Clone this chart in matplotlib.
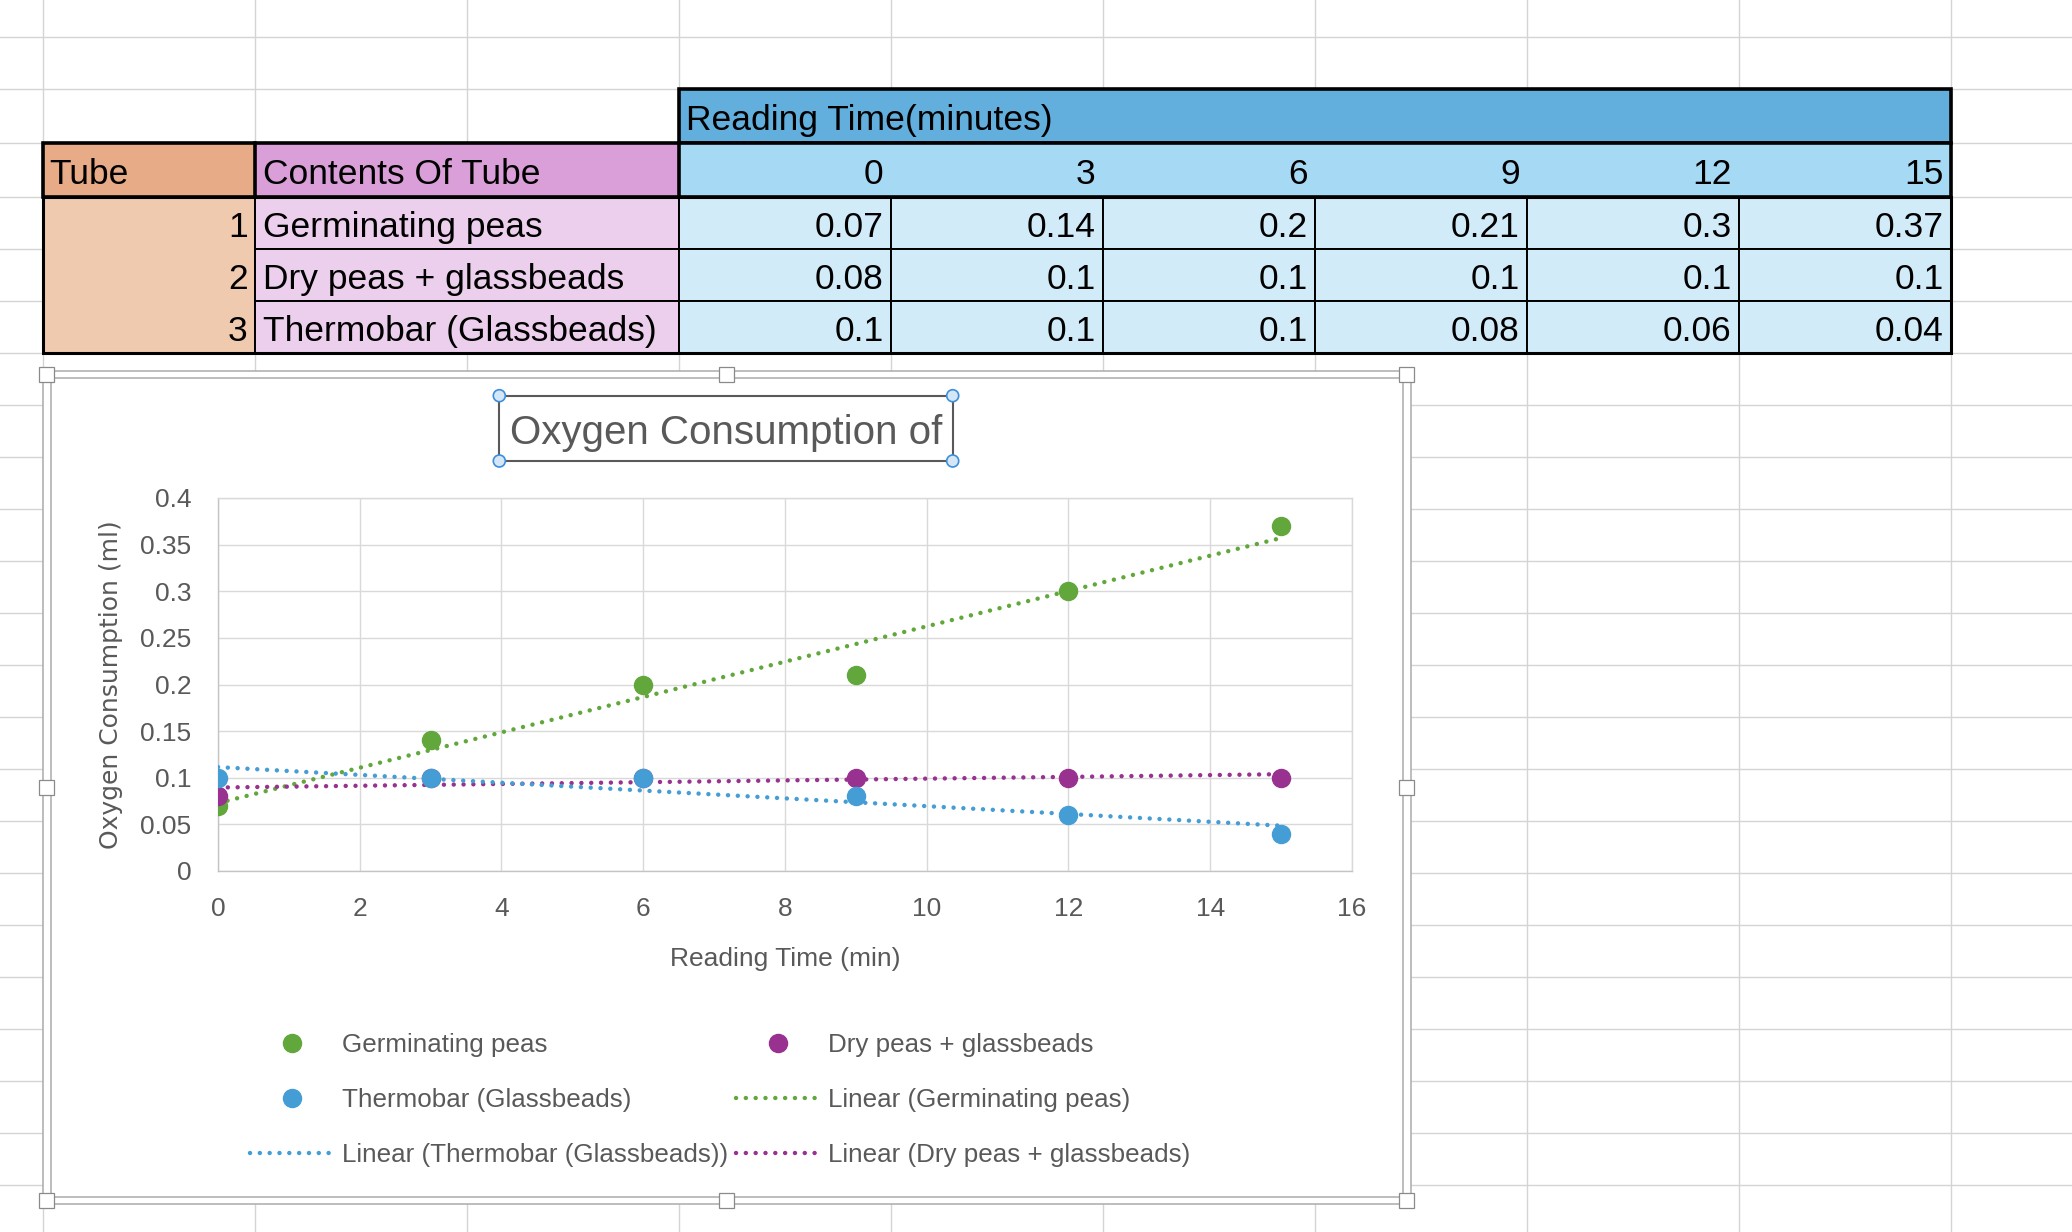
import numpy as np
import matplotlib.pyplot as plt
from matplotlib.patches import Rectangle, Circle
from matplotlib.lines import Line2D

plt.rcParams['font.family'] = ['Liberation Sans', 'DejaVu Sans']

#-----------------------------------------------------------------------------
# data (table + chart)
times = [0, 3, 6, 9, 12, 15]
tubes = [1, 2, 3]
contents = ['Germinating peas', 'Dry peas + glassbeads', 'Thermobar (Glassbeads)']
germinating = [0.07, 0.14, 0.2, 0.21, 0.3, 0.37]
dry_peas = [0.08, 0.1, 0.1, 0.1, 0.1, 0.1]
thermobar = [0.1, 0.1, 0.1, 0.08, 0.06, 0.04]
x_ticks = [0, 2, 4, 6, 8, 10, 12, 14, 16]
y_ticks = [0, 0.05, 0.1, 0.15, 0.2, 0.25, 0.3, 0.35, 0.4]

GREEN = '#62A73B'
PURPLE = '#98318F'
BLUE = '#459DD5'
GREY_TXT = '#595959'

#-----------------------------------------------------------------------------
# sheet background, pixel coords
W, H = 2072, 1232
fig = plt.figure(figsize=(W/100, H/100), dpi=100)
bg = fig.add_axes([0, 0, 1, 1])
bg.set_xlim(0, W)
bg.set_ylim(H, 0)
bg.axis('off')

col_x = [42.7 + 212*k for k in range(-1, 11)]
row_y = [-15, 37, 89, 143.3, 196.7, 249, 300.7, 352.7] + [352.7 + 52*k for k in range(1, 18)]
for x in col_x:
    bg.axvline(x, color='#D4D4D4', lw=1.0, zorder=0)
for y in row_y:
    bg.axhline(y, color='#D4D4D4', lw=1.0, zorder=0)

R = [89, 143.3, 196.7, 249, 300.7, 352.7]
C = [42.7 + 212*k for k in range(10)]
FS = 25.5

def cell(x0, x1, y0, y1, fill, lw=1.4, ec='black'):
    bg.add_patch(Rectangle((x0, y0), x1-x0, y1-y0, fc=fill, ec=ec, lw=lw, zorder=1))

def txt(x, row, s, ha):
    base = (R[row] + R[row+1])/2 + 14
    bg.text(x, base, s, fontsize=FS, ha=ha, va='baseline', color='black', zorder=3)

# header rows
cell(C[3], C[9], R[0], R[1], '#62AEDC', lw=2.6)
txt(C[3]+7, 0, 'Reading Time(minutes)', 'left')
cell(C[0], C[1], R[1], R[2], '#E7AC87', lw=0)
cell(C[1], C[3], R[1], R[2], '#DA9FD8', lw=0)
cell(C[3], C[9], R[1], R[2], '#A6D9F4', lw=0)
txt(C[0]+7, 1, 'Tube', 'left')
txt(C[1]+8, 1, 'Contents Of Tube', 'left')
for i, t in enumerate(times):
    txt(C[4+i]-7, 1, str(t), 'right')
bg.add_patch(Rectangle((C[0], R[1]), C[9]-C[0], R[2]-R[1], fill=False, ec='black', lw=2.6, zorder=2))
for x in (C[1], C[3]):
    bg.plot([x, x], [R[1], R[2]], color='black', lw=2.6, zorder=2)

# body rows
cell(C[0], C[1], R[2], R[5], '#F0CAAF')
series = [germinating, dry_peas, thermobar]
for j in range(3):
    txt(C[1]-7, 2+j, str(tubes[j]), 'right')
    cell(C[1], C[3], R[2+j], R[3+j], '#ECCFEC')
    txt(C[1]+8, 2+j, contents[j], 'left')
    for i, v in enumerate(series[j]):
        cell(C[3+i], C[4+i], R[2+j], R[3+j], '#D2EBF8')
        txt(C[4+i]-7, 2+j, f'{v:g}', 'right')
bg.add_patch(Rectangle((C[0], R[2]), C[9]-C[0], R[5]-R[2], fill=False, ec='black', lw=2.2, zorder=2))

#-----------------------------------------------------------------------------
# chart area (selected, double frame + handles)
bg.add_patch(Rectangle((42.7, 370.7), 1368, 833.3, fc='white', ec='#ABABAB', lw=1.1, zorder=5))
bg.add_patch(Rectangle((50.7, 378.3), 1352, 818.4, fill=False, ec='#ABABAB', lw=1.1, zorder=6))
for hx in (46.7, 726.7, 1406.7):
    for hy in (374.5, 787, 1200.5):
        if hx == 726.7 and hy == 787:
            continue
        bg.add_patch(Rectangle((hx-7.5, hy-7.5), 15, 15, fc='white', ec='#8A8A8A', lw=0.9, zorder=7))

# title box
bg.add_patch(Rectangle((499.3, 395.7), 453.4, 65.3, fill=False, ec=GREY_TXT, lw=1.5, zorder=7))
for cx in (499.3, 952.7):
    for cy in (395.7, 461):
        bg.add_patch(Circle((cx, cy), 6, fc='#D5E6F7', ec='#3D8EDB', lw=1.2, zorder=8))
bg.text(726.5, 444, 'Oxygen Consumption of', fontsize=29, color=GREY_TXT,
        ha='center', va='baseline', zorder=8)

#-----------------------------------------------------------------------------
ax = fig.add_axes([218/W, 1-871/H, 1134/W, 373/H])
ax.patch.set_visible(False)
ax.set_xlim(0, 16)
ax.set_ylim(0, 0.4)
ax.set_xticks(x_ticks)
ax.set_yticks(y_ticks)
ax.set_yticklabels([f'{v:g}' for v in y_ticks])
ax.grid(True, color='#D9D9D9', lw=1.0)
ax.set_axisbelow(True)
ax.tick_params(length=0, labelsize=19, labelcolor=GREY_TXT)
ax.tick_params(axis='x', pad=19)
ax.tick_params(axis='y', pad=19)
for s in ax.spines.values():
    s.set_color('#D9D9D9')
    s.set_linewidth(1.0)
ax.spines['left'].set_color('#C4C4C4')
ax.spines['bottom'].set_color('#C4C4C4')

ax.set_xlabel('Reading Time (min)', fontsize=19, color=GREY_TXT)
ax.xaxis.set_label_coords(0.5, -0.203)
ax.set_ylabel('Oxygen Consumption (ml)', fontsize=18, color=GREY_TXT, family='DejaVu Sans')
ax.yaxis.set_label_coords(-0.084, 0.5)

dots = (0, (0.01, 2.2))
fits = {}
pts = {}
for name, ys, c in [('g', germinating, GREEN), ('d', dry_peas, PURPLE), ('t', thermobar, BLUE)]:
    k, b = np.polyfit(times, ys, 1)
    xs = np.array([times[0], times[-1]])
    fits[name], = ax.plot(xs, k*xs + b, color=c, lw=3.2, linestyle=dots,
                          dash_capstyle='round', zorder=3)
    pts[name], = ax.plot(times, ys, 'o', ms=13, color=c, ls='none', zorder=4)

leg_kw = dict(loc='upper left', frameon=False, fontsize=18.7, labelcolor=GREY_TXT,
              handlelength=3.2, handletextpad=0.34, labelspacing=1.2,
              borderpad=0, borderaxespad=0, numpoints=1)
fig.legend([pts['g'], pts['t'], fits['t']],
           ['Germinating peas', 'Thermobar (Glassbeads)', 'Linear (Thermobar (Glassbeads))'],
           bbox_to_anchor=(250/W, 1-1033/H), **leg_kw)
fig.legend([pts['d'], fits['g'], fits['d']],
           ['Dry peas + glassbeads', 'Linear (Germinating peas)', 'Linear (Dry peas + glassbeads)'],
           bbox_to_anchor=(736/W, 1-1033/H), **leg_kw)

fig.savefig('out.png', dpi=100)
